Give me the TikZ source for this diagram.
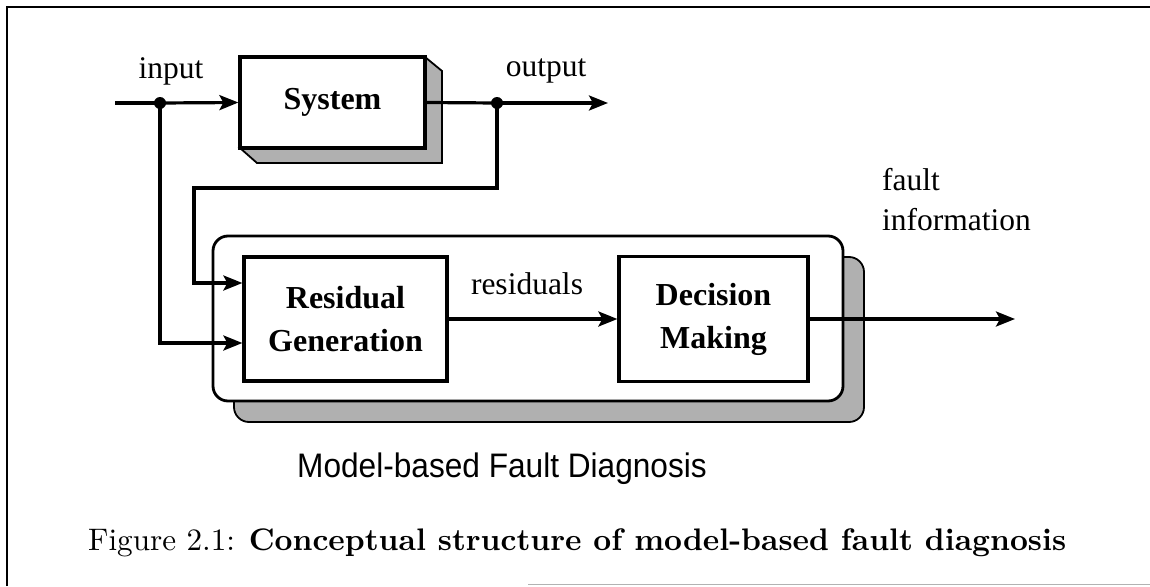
\documentclass[tikz,border=0pt]{standalone}
\usepackage{fontspec}
\usepackage{graphicx}
\setmainfont{Liberation Serif}
\newfontfamily\labelsans{Liberation Sans}
\newfontfamily\capfont{Latin Modern Roman}
\usetikzlibrary{arrows.meta}

\begin{document}
\begin{tikzpicture}[x=1pt,y=-1pt,
  wire/.style={line width=3.2pt},
  flow/.style={wire,-{Stealth[length=19pt,width=15pt,inset=4pt]}},
  block/.style={draw,line width=3.2pt,fill=white,align=center,inner sep=0pt,
    font=\fontsize{32}{43}\selectfont\bfseries},
  lbl/.style={inner sep=0pt,font=\fontsize{31.5}{40}\selectfont},
  junction/.style={circle,fill,inner sep=0pt,minimum size=12pt},
  shadowfill/.style={fill=gray!62,draw=black,line width=1.8pt}]

\useasboundingbox (0,0) rectangle (1150,586);

% page frame
\draw[line width=2.5pt] (7,586) -- (7,7) -- (1150,7);
\draw[gray!60,line width=1.5pt] (528,584.5) -- (1150,584.5);

% 3-D edge of the plant block
\draw[shadowfill] (425,57) -- (442,71) -- (442,163) -- (257,163) -- (240,148) -- (425,148) -- cycle;
\node[block,minimum width=185pt,minimum height=91pt] (sys) at (332.5,102.5) {System};

% diagnosis unit with its drop shadow
\draw[shadowfill,rounded corners=15pt] (234,257) rectangle (864,422);
\node[draw,line width=2.8pt,fill=white,rounded corners=15pt,
      minimum width=630pt,minimum height=165pt,inner sep=0pt] (mfd) at (528,318.5) {};
\node[block,minimum width=203pt,minimum height=124pt] (res) at (345.5,319) {Residual\\Generation};
\node[block,minimum width=189pt,minimum height=125pt] (dec) at (713.5,319) {Decision\\Making};

% signal points
\coordinate (src) at (115,103);
\node[junction] (jin) at (160,103) {};
\node[junction] (jout) at (497,103) {};
\coordinate (dst) at (608,103);
\coordinate (fb) at (194,188);
\coordinate (fo) at (1015,319);

% connectors
\draw[wire] (src) -- (jin.center);
\draw[flow] (jin.center) -- (sys.west);
\draw[wire] (sys.east) -- (jout.center);
\draw[flow] (jout.center) -- (dst);
\draw[flow] (jout.center) |- (fb) |- ([yshift=36pt]res.west);
\draw[flow] (jin.center) |- ([yshift=-24pt]res.west);
\draw[flow] (res.east) -- (dec.west);
\draw[flow] (dec.east) -- (fo);

% labels
\node[lbl,anchor=base] (inlbl) at (171,78) {input};
\node[lbl,anchor=base] (outlbl) at (546,77) {output};
\node[lbl,anchor=base] (reslbl) at (527,294) {residuals};
\node[lbl,anchor=base west,align=left] (faultlbl) at (882,230) {fault\\information};
\node[inner sep=0pt,anchor=base,font=\labelsans\fontsize{34}{40}\selectfont] (mfdlbl) at (502,477)
  {\scalebox{0.93}[1]{Model-based Fault Diagnosis}};
\node[inner sep=0pt,anchor=base west] (cap) at (88,550)
  {\resizebox{978pt}{!}{\capfont Figure 2.1: \bfseries Conceptual structure of model-based fault diagnosis}};
\end{tikzpicture}
\end{document}
